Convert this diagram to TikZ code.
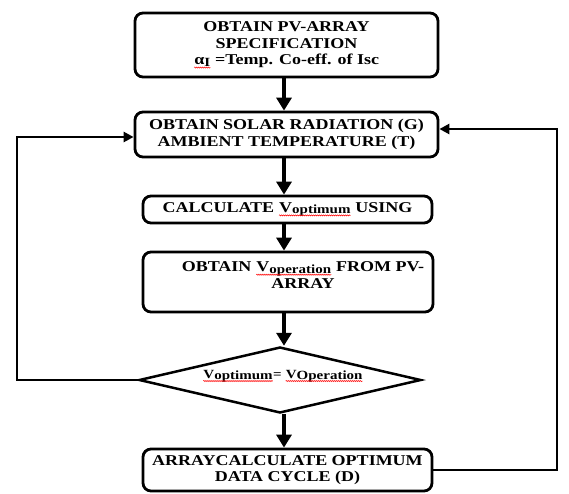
\documentclass[tikz,border=0pt]{standalone}
\usepackage{fontspec}
\setmainfont{Liberation Serif}[FakeStretch=1.2]
\usetikzlibrary{arrows.meta,shapes.geometric,decorations.pathmorphing}
\newcommand\sub[1]{\raisebox{-1.5pt}{\fontsize{12.5}{13}\selectfont #1}}
\newcommand\rwave[1]{\tikz[baseline=(w.base)]{\node[rectangle, inner sep=0pt, draw=none, minimum width=0pt, minimum height=0pt] (w) {#1};
  \draw[red, solid, sharp corners, line width=0.5pt, decorate, decoration={snake, amplitude=0.6pt, segment length=2pt}] ([yshift=-3pt]w.base west) -- ([yshift=-3pt]w.base east);}}
\begin{document}
\begin{tikzpicture}[x=1pt,y=-1pt,
  font=\bfseries\fontsize{15}{16.5}\selectfont,
  box/.style={draw, line width=2.8pt, rounded corners=8pt, inner sep=0pt, align=center},
  flow/.style={line width=4pt, -{Triangle[width=15pt,length=13pt]}},
  looparrow/.style={line width=2.5pt, -{Triangle[width=10pt,length=10pt]}}]
\useasboundingbox (0,0) rectangle (569,493);
\node[box, minimum width=303pt, minimum height=64pt] (b1) at (286.5,45)
  {OBTAIN PV-ARRAY\\SPECIFICATION\\\rwave{α\sub{I}} =Temp. Co-eff. of Isc};
\node[box, minimum width=303pt, minimum height=45pt] (b2) at (286.5,134.5)
  {OBTAIN SOLAR RADIATION (G)\\AMBIENT TEMPERATURE (T)};
\node[box, minimum width=289pt, minimum height=27pt] (b3) at (287.5,209.5)
  {CALCULATE \rwave{V\sub{optimum}} USING};
\node[box, minimum width=290pt, minimum height=60pt] (b4) at (288,282) {};
\node[align=center, inner sep=0pt] (b4t) at (303,275)
  {OBTAIN \rwave{V\sub{operation}} FROM PV-\\ARRAY};
\node[draw, line width=2.5pt, diamond, aspect=4.3, inner sep=0pt,
  minimum width=282pt, minimum height=66pt] (dia) at (280,380) {};
\node[inner sep=0pt, font=\bfseries\fontsize{12.5}{14}\selectfont] (diat) at (283,376)
  {\rwave{V\sub{optimum}}= \rwave{V\sub{Operation}}};
\node[box, minimum width=289pt, minimum height=42pt] (b5) at (287.5,470)
  {ARRAYCALCULATE OPTIMUM\\DATA CYCLE (D)};
\coordinate (cx) at (284,0);
\coordinate (la) at (17,137);
\coordinate (ra) at (557,129);
\draw[flow] (b1.south -| cx) -- (b2.north -| cx);
\draw[flow] (b2.south -| cx) -- (b3.north -| cx);
\draw[flow] (b3.south -| cx) -- (b4.north -| cx);
\draw[flow] (b4.south -| cx) -- (dia.north -| cx);
\draw[flow] (dia.south -| cx) -- (b5.north -| cx);
\draw[looparrow] (dia.west) -| (la) -- (b2.west |- la);
\draw[looparrow] (b5.east) -| (ra) -- (b2.east |- ra);
\end{tikzpicture}
\end{document}
